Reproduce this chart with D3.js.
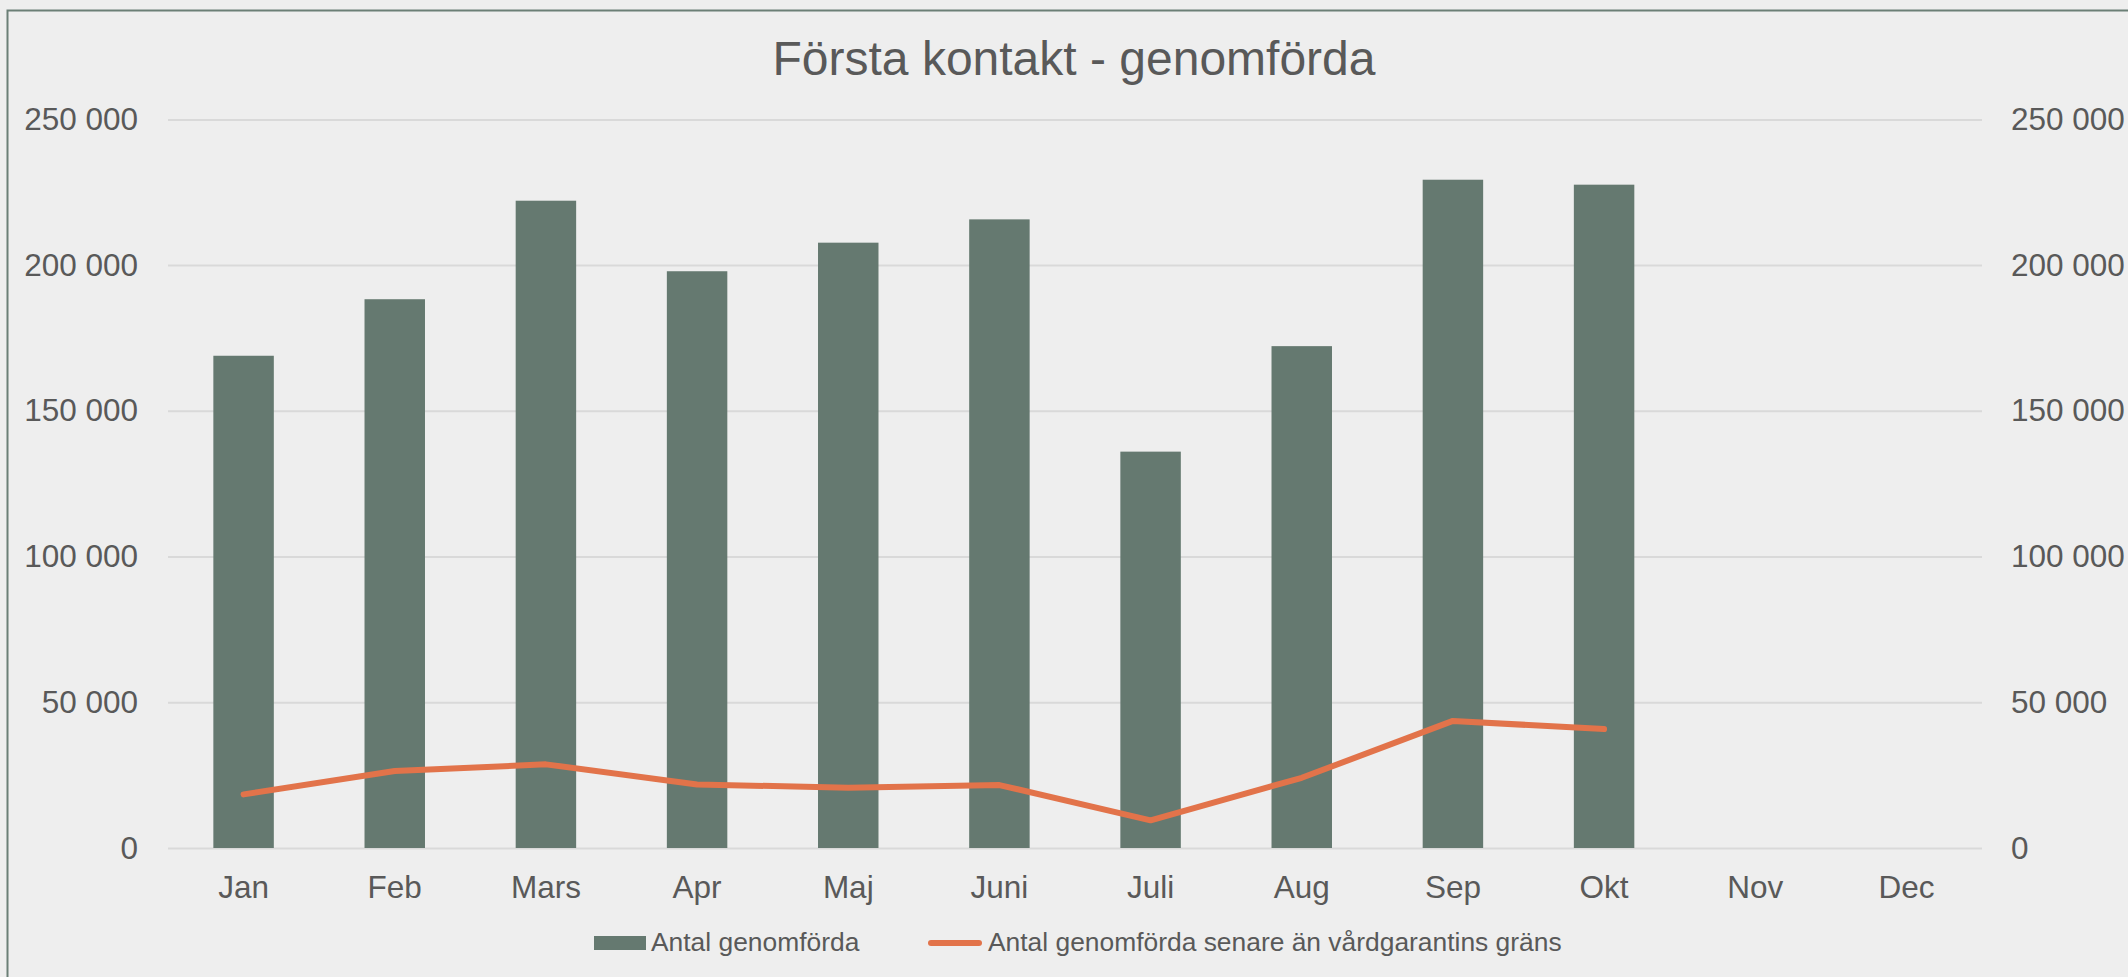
<!DOCTYPE html>
<html>
<head>
<meta charset="utf-8">
<script src="https://cdn.jsdelivr.net/npm/d3@7"></script>
<style>
	body { margin: 0; background: #eeeeee; }
	svg { display: block; font-family: "Liberation Sans", Arial, sans-serif; }
</style>
</head>
<body>
<svg id="chart" width="2128" height="977"></svg>
<script>
var months = ['Jan', 'Feb', 'Mars', 'Apr', 'Maj', 'Juni', 'Juli', 'Aug', 'Sep', 'Okt', 'Nov', 'Dec'];
var genomforda = [168900, 188300, 222100, 197900, 207700, 215700, 136000, 172200, 229300, 227600, null, null];
var senare = [18400, 26400, 28700, 21800, 20700, 21600, 9500, 24100, 43600, 40800, null, null];
var yTicks = [0, 50000, 100000, 150000, 200000, 250000];
var seriesNames = ['Antal genomförda', 'Antal genomförda senare än vårdgarantins gräns'];
var title = 'Första kontakt - genomförda';

var textColor = '#595959';
var barColor = '#657970';
var lineColor = '#e2734a';

var svg = d3.select('#chart');
var plotLeft = 168, plotRight = 1982, plotTop = 119.4, plotBottom = 848;

svg.append('rect')
	.attr('width', 2128).attr('height', 977)
	.attr('fill', '#eeeeee');

// chart border (runs off the right and bottom edge)
svg.append('rect')
	.attr('x', 7.5).attr('y', 10.5)
	.attr('width', 2200).attr('height', 1100)
	.attr('fill', 'none')
	.attr('stroke', '#6b7f76')
	.attr('stroke-width', 2);

var sv = d3.formatLocale({ decimal: ',', thousands: ' ', grouping: [3], currency: ['', ' kr'] });
var fmt = sv.format(',d');

var x = d3.scaleBand().domain(months).range([plotLeft, plotRight]).paddingInner(0.6).paddingOuter(0.3);
var y = d3.scaleLinear().domain([0, 250000]).range([plotBottom, plotTop]);
var y2 = d3.scaleLinear().domain([0, 250000]).range([plotBottom, plotTop]);

// gridlines
svg.append('g')
	.attr('transform', 'translate(' + plotLeft + ',0)')
	.call(d3.axisLeft(y).tickValues(yTicks).tickSize(-(plotRight - plotLeft)).tickFormat(''))
	.call(function (g) { g.select('.domain').remove(); })
	.selectAll('line').attr('stroke', '#d9d9d9').attr('stroke-width', 2);

// left axis
var yAxisL = svg.append('g')
	.attr('transform', 'translate(' + plotLeft + ',0)')
	.call(d3.axisLeft(y).tickValues(yTicks).tickSize(0).tickPadding(30).tickFormat(fmt));
yAxisL.select('.domain').remove();
yAxisL.selectAll('text').attr('font-size', 31.5).attr('fill', textColor)
	.attr('font-family', '"Liberation Sans", Arial, sans-serif');

// right axis
var yAxisR = svg.append('g')
	.attr('transform', 'translate(' + plotRight + ',0)')
	.call(d3.axisRight(y2).tickValues(yTicks).tickSize(0).tickPadding(29).tickFormat(fmt));
yAxisR.select('.domain').remove();
yAxisR.selectAll('text').attr('font-size', 31.5).attr('fill', textColor)
	.attr('font-family', '"Liberation Sans", Arial, sans-serif');

// bars
svg.append('g').selectAll('rect')
	.data(months.map(function (m, i) { return { m: m, v: genomforda[i] }; }).filter(function (d) { return d.v != null; }))
	.enter().append('rect')
	.attr('x', function (d) { return x(d.m); })
	.attr('width', x.bandwidth())
	.attr('y', function (d) { return y(d.v); })
	.attr('height', function (d) { return y(0) - y(d.v); })
	.attr('fill', barColor);

// x axis
var xAxis = svg.append('g')
	.attr('transform', 'translate(0,' + plotBottom + ')')
	.call(d3.axisBottom(x).tickSize(0).tickPadding(27.5));
xAxis.select('.domain').remove();
xAxis.selectAll('text').attr('font-size', 31.5).attr('fill', textColor)
	.attr('font-family', '"Liberation Sans", Arial, sans-serif');

// line on secondary axis
var lineData = months.map(function (m, i) { return { m: m, v: senare[i] }; }).filter(function (d) { return d.v != null; });
var line = d3.line()
	.x(function (d) { return x(d.m) + x.bandwidth() / 2; })
	.y(function (d) { return y2(d.v); });
svg.append('path')
	.datum(lineData)
	.attr('d', line)
	.attr('fill', 'none')
	.attr('stroke', lineColor)
	.attr('stroke-width', 6)
	.attr('stroke-linecap', 'round')
	.attr('stroke-linejoin', 'round');

// title
svg.append('text')
	.attr('x', 1074).attr('y', 75)
	.attr('text-anchor', 'middle')
	.attr('font-size', 48)
	.attr('fill', textColor)
	.text(title);

// legend
var legend = svg.append('g');
legend.append('rect')
	.attr('x', 594).attr('y', 936).attr('width', 52).attr('height', 14)
	.attr('fill', barColor);
legend.append('text')
	.attr('x', 651).attr('y', 951)
	.attr('font-size', 26.4).attr('fill', textColor)
	.text(seriesNames[0]);
legend.append('line')
	.attr('x1', 931).attr('x2', 979).attr('y1', 943).attr('y2', 943)
	.attr('stroke', lineColor).attr('stroke-width', 6).attr('stroke-linecap', 'round');
legend.append('text')
	.attr('x', 988).attr('y', 951)
	.attr('font-size', 26.4).attr('fill', textColor)
	.text(seriesNames[1]);
</script>
</body>
</html>
